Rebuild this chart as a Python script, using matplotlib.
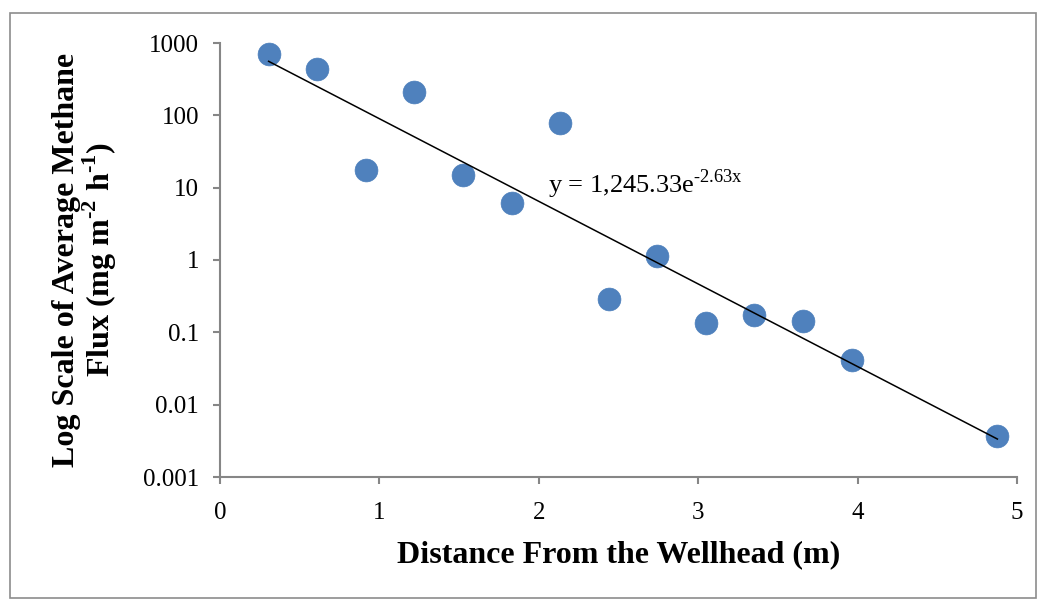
import matplotlib.pyplot as plt
import numpy as np
from matplotlib.patches import Rectangle

plt.rcParams["font.family"] = ["Liberation Serif", "DejaVu Serif"]
plt.rcParams["mathtext.fontset"] = "custom"
plt.rcParams["mathtext.rm"] = "Liberation Serif"
plt.rcParams["mathtext.bf"] = "Liberation Serif:bold"

distance_m = [0.305, 0.61, 0.914, 1.22, 1.524, 1.83, 2.134, 2.44, 2.743, 3.048, 3.353, 3.658, 3.962, 4.877]
methane_flux = [705, 437, 17.5, 210, 14.9, 6.1, 78, 0.288, 1.13, 0.134, 0.173, 0.143, 0.0413, 0.00367]
fit_a = 1245.33
fit_b = -2.63
y_ticks = [0.001, 0.01, 0.1, 1, 10, 100, 1000]
y_tick_labels = ["0.001", "0.01", "0.1", "1", "10", "100", "1000"]
x_ticks = [0, 1, 2, 3, 4, 5]

W, H = 1039, 602
fig = plt.figure(figsize=(W / 100, H / 100), dpi=100)
ax = fig.add_axes([220 / W, 1 - 477 / H, (1017 - 220) / W, (477 - 43) / H])

# outer chart border
fig.patches.append(
    Rectangle((10 / W, 1 - 598 / H), (1036 - 10) / W, (598 - 13) / H,
              transform=fig.transFigure, fill=False, edgecolor="#8c8c8c", linewidth=1.2)
)

ax.scatter(distance_m, methane_flux, s=270, color="#4F81BD", edgecolor="#4a7ebb",
           linewidth=0.5, zorder=3, clip_on=False)

fit_x = np.linspace(min(distance_m), max(distance_m), 200)
ax.plot(fit_x, fit_a * np.exp(fit_b * fit_x), color="black", linewidth=1.1, zorder=4)

ax.text(2.06, 8.4, "y = 1,245.33e$^{\\mathrm{\u20102.63x}}$", fontsize=19, color="black")

ax.set_yscale("log")
ax.set_ylim(0.001, 1000)
ax.set_xlim(0, 5)
ax.set_yticks(y_ticks)
ax.set_yticklabels(y_tick_labels)
ax.set_xticks(x_ticks)
ax.minorticks_off()

for side in ["top", "right"]:
    ax.spines[side].set_visible(False)
for side in ["left", "bottom"]:
    ax.spines[side].set_color("#868686")
    ax.spines[side].set_linewidth(1.5)
ax.tick_params(axis="both", direction="out", length=5, width=1.5, color="#868686",
               labelsize=18, labelcolor="black")
ax.tick_params(axis="y", pad=10)
ax.tick_params(axis="x", pad=13)

ax.set_xlabel("Distance From the Wellhead (m)", fontsize=23, fontweight="bold", labelpad=12)
ax.set_ylabel("Log Scale of Average Methane\n" + "Flux (mg m$^{\\mathbf{\u20102}}$ h$^{\\mathbf{\u20101}}$)",
              fontsize=23, fontweight="bold", labelpad=17, linespacing=1.0)

fig.savefig("out.png", dpi=100)
